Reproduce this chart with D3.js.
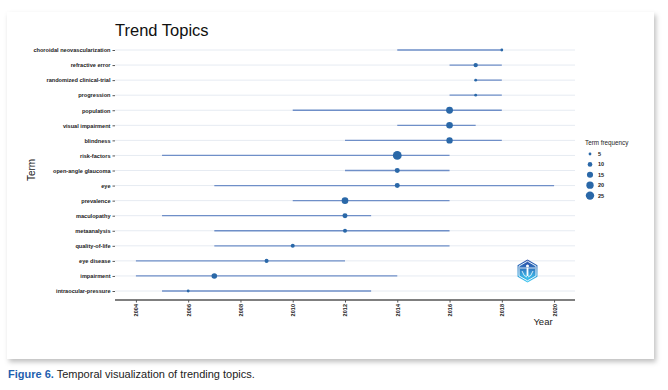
<!DOCTYPE html>
<html>
<head>
<meta charset="utf-8">
<script src="https://cdn.jsdelivr.net/npm/d3@7"></script>
<style>
  body { margin: 0; background: #fff; }
  svg { display: block; }
</style>
</head>
<body>
<svg id="wrapper" width="668" height="390"></svg>
<script>
// terms top to bottom
const terms = [
  'choroidal neovascularization', 'refractive error', 'randomized clinical-trial',
  'progression', 'population', 'visual impairment', 'blindness', 'risk-factors',
  'open-angle glaucoma', 'eye', 'prevalence', 'maculopathy', 'metaanalysis',
  'quality-of-life', 'eye disease', 'impairment', 'intraocular-pressure'
];
const yearQ1 =     [2014, 2016, 2017, 2016, 2010, 2014, 2012, 2005, 2012, 2007, 2010, 2005, 2007, 2007, 2004, 2004, 2005];
const yearMedian = [2018, 2017, 2017, 2017, 2016, 2016, 2016, 2014, 2014, 2014, 2012, 2012, 2012, 2010, 2009, 2007, 2006];
const yearQ3 =     [2018, 2018, 2018, 2018, 2018, 2017, 2018, 2016, 2016, 2020, 2016, 2013, 2016, 2016, 2012, 2014, 2013];
const freq =       [5, 9, 5, 5, 18, 17, 16, 27, 11, 11, 17, 11, 8, 8, 8, 13, 5];
const yearTicks = [2004, 2006, 2008, 2010, 2012, 2014, 2016, 2018, 2020];
const legendFreq = [5, 10, 15, 20, 25];

const rows = terms.map((t, i) => ({ term: t, q1: yearQ1[i], med: yearMedian[i], q3: yearQ3[i], f: freq[i] }));

const svg = d3.select('#wrapper');
const font = 'Liberation Sans, Arial, sans-serif';

// card + shadow
const defs = svg.append('defs');
const sh = defs.append('filter').attr('id', 'shadow').attr('x', '-5%').attr('y', '-5%').attr('width', '110%').attr('height', '112%');
sh.append('feDropShadow').attr('dx', 2).attr('dy', 3).attr('stdDeviation', 2.5).attr('flood-color', '#000').attr('flood-opacity', 0.25);
svg.append('rect')
  .attr('x', 7).attr('y', 12).attr('width', 647).attr('height', 347)
  .attr('fill', '#fff').attr('filter', 'url(#shadow)');

const x = d3.scaleLinear().domain([2003.2, 2020.8]).range([115, 575]);
const y = d3.scalePoint().domain(terms).range([50, 291]);
const r = d3.scaleSqrt().domain([5, 27]).range([1.4, 4.4]);

const pointColor = '#2a68a8';
const lineColor = '#6f8fc8';

// title
svg.append('text').attr('x', 115).attr('y', 36)
  .attr('font-family', font).attr('font-size', 16.5).attr('fill', '#111')
  .text('Trend Topics');

// grid
svg.append('g').selectAll('line').data(terms).join('line')
  .attr('x1', 115).attr('x2', 575)
  .attr('y1', d => y(d)).attr('y2', d => y(d))
  .attr('stroke', '#e6ebf2').attr('stroke-width', 1);

// y axis (labels + ticks, no domain line)
const yAxis = svg.append('g').attr('transform', 'translate(115,0)')
  .call(d3.axisLeft(y).tickSize(2.5).tickPadding(2));
yAxis.select('.domain').remove();
yAxis.selectAll('.tick line').attr('stroke', '#555');
yAxis.selectAll('.tick text')
  .attr('font-family', font).attr('font-size', 5.6).attr('font-weight', 'bold').attr('fill', '#222');

// x axis
const xAxis = svg.append('g').attr('transform', 'translate(0,300)')
  .call(d3.axisBottom(x).tickValues(yearTicks).tickFormat(d3.format('d')).tickSize(2.5).tickPadding(3));
xAxis.select('.domain').attr('stroke', '#555').attr('stroke-width', 1.6)
  .attr('d', 'M115,0H575');
xAxis.selectAll('.tick line').attr('stroke', '#555');
xAxis.selectAll('.tick text')
  .attr('font-family', font).attr('font-size', 5.6).attr('font-weight', 'bold').attr('fill', '#222')
  .attr('transform', 'rotate(-90)')
  .attr('text-anchor', 'end').attr('dy', '0.35em').attr('x', -4).attr('y', 0);

// axis titles
svg.append('text').attr('x', 543).attr('y', 325).attr('text-anchor', 'middle')
  .attr('font-family', font).attr('font-size', 9.5).attr('fill', '#222').text('Year');
svg.append('text').attr('transform', 'translate(35,170) rotate(-90)').attr('text-anchor', 'middle')
  .attr('font-family', font).attr('font-size', 10).attr('fill', '#222').text('Term');

// segments
svg.append('g').selectAll('line').data(rows).join('line')
  .attr('x1', d => x(d.q1)).attr('x2', d => x(d.q3))
  .attr('y1', d => y(d.term)).attr('y2', d => y(d.term))
  .attr('stroke', lineColor).attr('stroke-width', 1.3);

// points
svg.append('g').selectAll('circle').data(rows).join('circle')
  .attr('cx', d => x(d.med)).attr('cy', d => y(d.term))
  .attr('r', d => r(d.f)).attr('fill', pointColor);

// legend
const lg = svg.append('g').attr('transform', 'translate(585,0)');
lg.append('text').attr('x', 0).attr('y', 145)
  .attr('font-family', font).attr('font-size', 6.3).attr('fill', '#222').text('Term frequency');
const li = lg.selectAll('g.item').data(legendFreq).join('g')
  .attr('transform', (d, i) => `translate(0,${154 + i * 10.4})`);
li.append('circle').attr('cx', 5).attr('cy', 0).attr('r', d => r(d)).attr('fill', pointColor);
li.append('text').attr('x', 13).attr('y', 0).attr('dy', '0.35em')
  .attr('font-family', font).attr('font-size', 5.5).attr('font-weight', 'bold').attr('fill', '#222')
  .text(d => d);

// logo (hexagon badge)
const grad = defs.append('linearGradient').attr('id', 'logoGrad').attr('x1', 0).attr('y1', 0).attr('x2', 0).attr('y2', 1);
grad.append('stop').attr('offset', '0%').attr('stop-color', '#2c4fa8');
grad.append('stop').attr('offset', '100%').attr('stop-color', '#3cc8f2');
const hex = (cx, cy, rr) => d3.range(6).map(k => {
  const a = Math.PI / 3 * k - Math.PI / 2;
  return [cx + rr * Math.cos(a), cy + rr * Math.sin(a)];
});
const logo = svg.append('g');
logo.append('polygon').attr('points', hex(527.5, 271, 11.5).join(' ')).attr('fill', 'url(#logoGrad)');
logo.append('polygon').attr('points', hex(527.5, 271, 9.8).join(' ')).attr('fill', 'none').attr('stroke', '#fff').attr('stroke-width', 0.9);
logo.append('polygon').attr('points', hex(527.5, 271, 8).join(' ')).attr('fill', 'url(#logoGrad)');
logo.append('line').attr('x1', 520).attr('x2', 535).attr('y1', 268).attr('y2', 268).attr('stroke', '#fff').attr('stroke-width', 0.8);
logo.append('circle').attr('cx', 527.5).attr('cy', 266).attr('r', 1.5).attr('fill', '#fff');
logo.append('rect').attr('x', 526.6).attr('y', 268).attr('width', 1.8).attr('height', 8).attr('fill', '#fff');
logo.append('path').attr('d', 'M522,271 Q524,277 527,277 M533,271 Q531,277 528,277').attr('fill', 'none').attr('stroke', '#fff').attr('stroke-width', 0.8);

// caption
const cap = svg.append('text').attr('x', 8).attr('y', 378)
  .attr('font-family', font).attr('font-size', 11).attr('fill', '#222');
cap.append('tspan').attr('fill', '#1f5fae').attr('font-weight', 'bold').text('Figure 6.');
cap.append('tspan').text(' Temporal visualization of trending topics.');
</script>
</body>
</html>
